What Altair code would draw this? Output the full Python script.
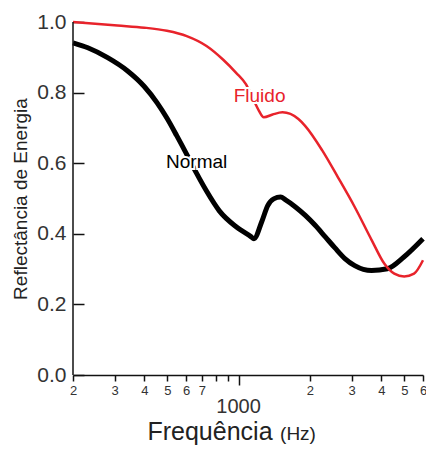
import altair as alt
import pandas as pd

# ---- data ----
normal_freq = [200, 231, 280, 339, 399, 453, 498, 548, 604, 665, 732, 829,
               976, 1127, 1160, 1253, 1327, 1406, 1504, 1578, 1737, 1912,
               2104, 2317, 2550, 2808, 3090, 3639, 4244, 4998, 6000]
normal_refl = [0.941, 0.927, 0.899, 0.862, 0.818, 0.771, 0.728, 0.678, 0.625,
               0.571, 0.521, 0.465, 0.420, 0.392, 0.386, 0.435, 0.480, 0.499,
               0.504, 0.496, 0.476, 0.452, 0.424, 0.392, 0.360, 0.330, 0.310,
               0.296, 0.301, 0.335, 0.386]

fluid_freq = [200, 308, 400, 498, 604, 732, 861, 976, 1075, 1160, 1217, 1277,
              1392, 1532, 1788, 1912, 2250, 2626, 3090, 3639, 4124, 4539,
              4998, 5500, 6000]
fluid_refl = [1.0, 0.990, 0.984, 0.975, 0.960, 0.932, 0.893, 0.856, 0.823,
              0.777, 0.749, 0.730, 0.738, 0.744, 0.725, 0.705, 0.637, 0.560,
              0.476, 0.383, 0.315, 0.287, 0.279, 0.287, 0.325]

x_ticks = [200, 300, 400, 500, 600, 700, 800, 900, 1000,
           2000, 3000, 4000, 5000, 6000]
y_ticks = [0.0, 0.2, 0.4, 0.6, 0.8, 1.0]

series_labels = ["Normal", "Fluido"]
label_freq = [665, 1226]
label_refl = [0.603, 0.79]
label_color = ["#000000", "#e8232b"]

FONT = "Liberation Sans"
W, H = 350, 353

df_n = pd.DataFrame({"f": normal_freq, "r": normal_refl})
df_f = pd.DataFrame({"f": fluid_freq, "r": fluid_refl})
df_lab = pd.DataFrame({"f": label_freq, "r": label_refl,
                       "t": series_labels, "c": label_color})

xscale = alt.Scale(type="log", domain=[200, 6000], nice=False)
yscale = alt.Scale(domain=[0, 1], nice=False)

x_axis = alt.Axis(
    values=x_ticks,
    labelExpr="(datum.value == 800 || datum.value == 900 || datum.value == 1000) ? '' : substring(toString(datum.value), 0, 1)",
    title=None, grid=False,
    domainColor="#111", domainWidth=1.5,
    tickColor="#111", tickWidth=1.5,
    tickSize={"condition": {"test": "datum.value == 1000", "value": 10}, "value": 6},
    labelFont=FONT, labelFontSize=13, labelColor="#333", labelPadding=3,
    labelOverlap=False, labelBound=False, labelFlush=False,
)
y_axis = alt.Axis(
    values=y_ticks, format=".1f", grid=False, domain=False,
    offset=-11, tickSize=11, tickColor="#111", tickWidth=1.5,
    labelFont=FONT, labelFontSize=21, labelColor="#333", labelPadding=7,
    title="Reflectância de Energia", titleFont=FONT, titleFontSize=19,
    titleFontWeight="normal", titleColor="#222", titlePadding=6,
)

normal = alt.Chart(df_n).mark_line(color="#000000", strokeWidth=5,
                                   interpolate="monotone").encode(
    x=alt.X("f:Q", scale=xscale, axis=x_axis),
    y=alt.Y("r:Q", scale=yscale, axis=y_axis),
)
fluid = alt.Chart(df_f).mark_line(color="#e8232b", strokeWidth=2.5,
                                  interpolate="monotone").encode(
    x=alt.X("f:Q", scale=xscale),
    y=alt.Y("r:Q", scale=yscale),
)

left_line = alt.Chart(pd.DataFrame({"f": [200], "r0": [0.0], "r1": [1.0]})).mark_rule(
    color="#111", strokeWidth=1.5).encode(
    x=alt.X("f:Q", scale=xscale),
    y=alt.Y("r0:Q", scale=yscale),
    y2="r1:Q",
)

halo = alt.Chart(df_lab).mark_text(font=FONT, fontSize=19, stroke="white",
                                   strokeWidth=4, fill="white",
                                   baseline="middle").encode(
    x=alt.X("f:Q", scale=xscale), y=alt.Y("r:Q", scale=yscale), text="t:N")
labels = alt.Chart(df_lab).mark_text(font=FONT, fontSize=19,
                                     baseline="middle").encode(
    x=alt.X("f:Q", scale=xscale), y=alt.Y("r:Q", scale=yscale), text="t:N",
    color=alt.Color("c:N", scale=None))

thousand = alt.Chart(pd.DataFrame({"f": [1000], "t": ["1000"]})).mark_text(
    font=FONT, fontSize=20, color="#333", baseline="alphabetic").encode(
    x=alt.X("f:Q", scale=xscale), y=alt.value(H + 38), text="t:N")

xtitle1 = alt.Chart(pd.DataFrame({"t": ["Frequência"]})).mark_text(
    font=FONT, fontSize=25, color="#222", baseline="alphabetic", align="center").encode(
    x=alt.value(137), y=alt.value(H + 65), text="t:N")
xtitle2 = alt.Chart(pd.DataFrame({"t": ["(Hz)"]})).mark_text(
    font=FONT, fontSize=19, color="#222", baseline="alphabetic", align="center").encode(
    x=alt.value(225), y=alt.value(H + 65), text="t:N")

chart = alt.layer(normal, fluid, left_line, halo, labels, thousand,
                  xtitle1, xtitle2).properties(
    width=W, height=H,
    autosize=alt.AutoSizeParams(type="none"),
    padding={"left": 65, "top": 14, "right": 3, "bottom": 72},
    background="white",
).configure_view(stroke=None)

chart.save("out.html", embed_options={"renderer": "svg", "actions": False})
